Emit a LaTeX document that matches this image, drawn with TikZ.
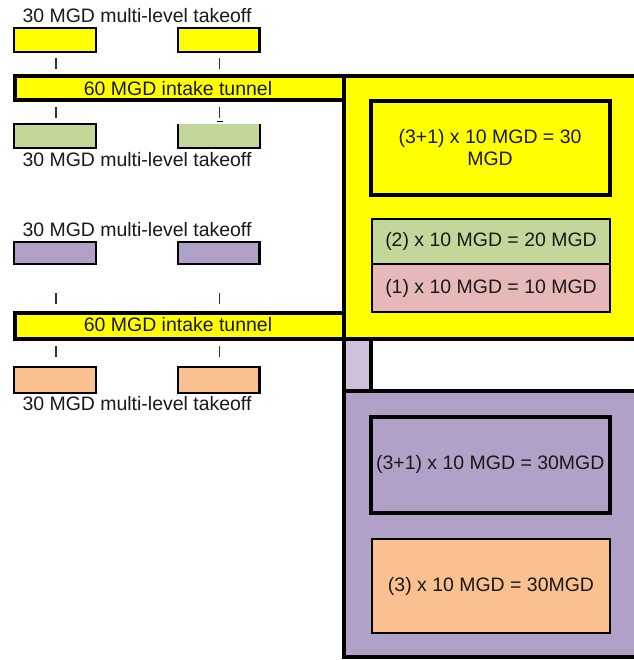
\documentclass[tikz,border=0pt]{standalone}
\usepackage{fontspec}
\setmainfont{Liberation Sans}
\usetikzlibrary{fit}
\definecolor{cyel}{HTML}{FFFF00}
\definecolor{cgreen}{HTML}{C4D79B}
\definecolor{cpink}{HTML}{E6B9B8}
\definecolor{cpurple}{HTML}{B1A0C7}
\definecolor{clpurple}{HTML}{CCC0DA}
\definecolor{corange}{HTML}{FAC090}
\tikzset{
  txt/.style={font=\fontsize{14.6}{16.5}\selectfont, text=black!90},
  region/.style={draw, line width=3pt, inner sep=0pt},
  thickbox/.style={draw, line width=3pt, inner sep=0pt},
  thinbox/.style={draw, line width=1.5pt, inner sep=0pt},
  smallbox/.style={draw, line width=1.6pt, inner sep=0pt},
  lbl/.style={txt, inner sep=0pt},
  tickline/.style={line width=1.3pt, black!80},
}
\begin{document}
\begin{tikzpicture}[x=0.75pt, y=-0.75pt]
\clip (0,0) rectangle (634,660);
\fill[white] (0,0) rectangle (634,660);
% big regions
\node (yelreg) [region, fill=cyel, fit={(343.5,76.5)(660,338.5)}] {};
\node (tun1) [region, fill=cyel, fit={(14.5,76.5)(343.5,100)}] {};
\node[lbl] (tun1t) at (178,88.5) {60 MGD intake tunnel};
\node (tun2) [region, fill=cyel, fit={(14.5,312.5)(343.5,338.5)}] {};
\node[lbl] (tun2t) at (178,325) {60 MGD intake tunnel};
\node (strip) [region, fill=clpurple, fit={(343.5,338.5)(370.5,391)}] {};
\node (purreg) [region, fill=cpurple, fit={(343.5,391)(660,656.5)}] {};
% inner boxes, yellow region
\node (y31) [thickbox, fill=cyel, fit={(371,101)(609.5,194.5)}] {};
\node[lbl, align=center] (y31t) at (490,148) {(3+1) x 10 MGD = 30\\MGD};
\node (g2) [thinbox, fill=cgreen, fit={(372,219)(610,264)}] {};
\node[lbl] (g2t) at (g2.center) {(2) x 10 MGD = 20 MGD};
\node (p1) [thinbox, fill=cpink, fit={(372,264)(610,312)}] {};
\node[lbl] (p1t) at (p1.center) {(1) x 10 MGD = 10 MGD};
% inner boxes, purple region
\node (u31) [thickbox, fill=cpurple, fit={(370.5,417)(610,512.5)}] {};
\node[lbl] (u31t) at (u31.center) {(3+1) x 10 MGD = 30MGD};
\node (o3) [thinbox, fill=corange, fit={(372,539)(610,633)}] {};
\node[lbl] (o3t) at (o3.center) {(3) x 10 MGD = 30MGD};
% left small boxes
\node (ya) [smallbox, fill=cyel, fit={(14,28)(96,52)}] {};
\node (yb) [smallbox, fill=cyel, fit={(178,28)(259.5,52)}] {};
\node (ga) [smallbox, fill=cgreen, fit={(14,124)(96,148)}] {};
\node (gb) [inner sep=0pt, fill=cgreen, fit={(178,124)(259.5,148)}] {};
\draw[line width=1.6pt] (gb.north west) -- (gb.south west) -- (gb.south east) -- (gb.north east);
\node (pa) [smallbox, fill=cpurple, fit={(14,242)(96,264)}] {};
\node (pb) [smallbox, fill=cpurple, fit={(178,242)(259.5,264)}] {};
\node (oa) [smallbox, fill=corange, fit={(14,367)(96,393)}] {};
\node (ob) [smallbox, fill=corange, fit={(178,367)(259.5,393)}] {};
% labels
\node[lbl] (l1) at (137,16) {30 MGD multi-level takeoff};
\node[lbl] (l2) at (137,160) {30 MGD multi-level takeoff};
\node[lbl] (l3) at (137,230) {30 MGD multi-level takeoff};
\node[lbl] (l4) at (137,404) {30 MGD multi-level takeoff};
% ticks
\foreach \n/\x in {a/56, b/219.5}{
  \coordinate (t1\n s) at (\x,58); \coordinate (t1\n e) at (\x,69);
  \coordinate (t2\n s) at (\x,107); \coordinate (t2\n e) at (\x,118);
  \coordinate (t3\n s) at (\x,293); \coordinate (t3\n e) at (\x,304);
  \coordinate (t4\n s) at (\x,346); \coordinate (t4\n e) at (\x,357);
  \draw[tickline] (t1\n s) -- (t1\n e);
  \draw[tickline] (t2\n s) -- (t2\n e);
  \draw[tickline] (t3\n s) -- (t3\n e);
  \draw[tickline] (t4\n s) -- (t4\n e);
}
\coordinate (ul1) at (216.5,121.5);
\coordinate (ul2) at (223,121.5);
\draw[line width=0.9pt] (ul1) -- (ul2);
\end{tikzpicture}
\end{document}
